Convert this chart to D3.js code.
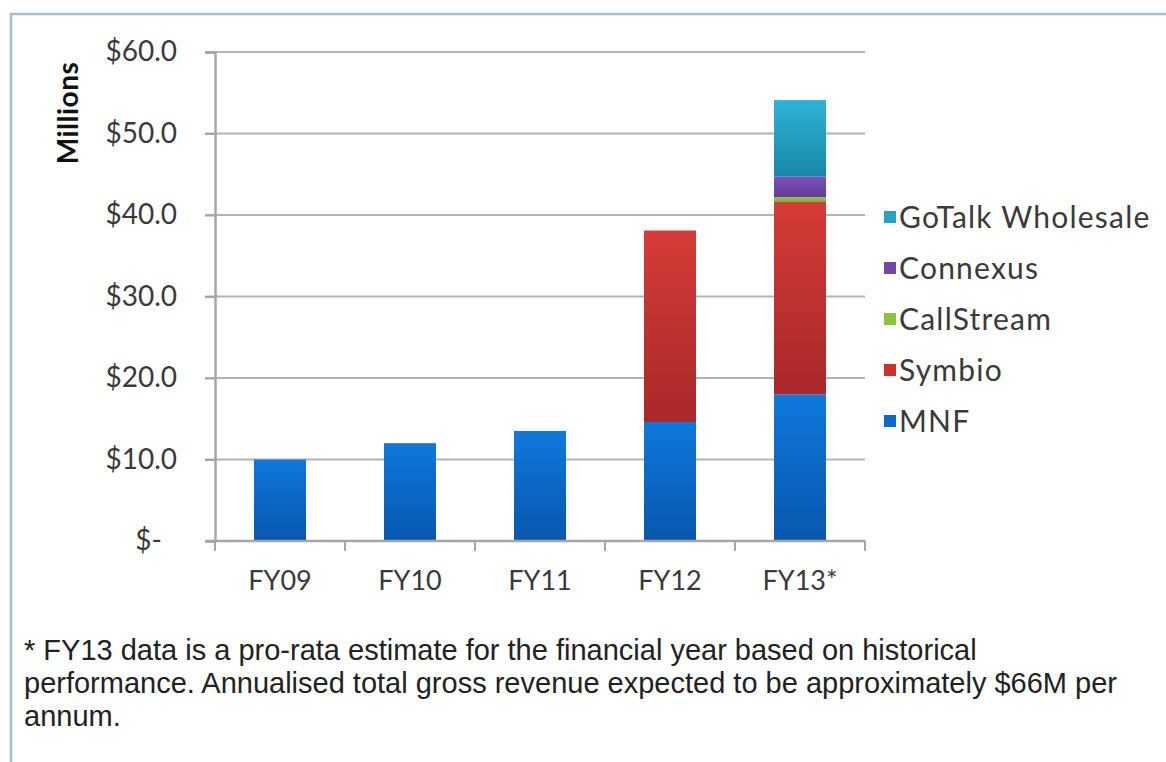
<!DOCTYPE html>
<html>
<head>
<meta charset="utf-8">
<script src="https://cdn.jsdelivr.net/npm/d3@7"></script>
<style>
  html, body { margin: 0; padding: 0; background: #ffffff; }
  svg { display: block; }
</style>
</head>
<body>
<svg id="chart" width="1166" height="762"></svg>
<script>
// ---- data ----
const categories = ["FY09", "FY10", "FY11", "FY12", "FY13*"];
const seriesNames = ["MNF", "Symbio", "CallStream", "Connexus", "GoTalk Wholesale"];
const mnf        = [10.0, 12.0, 13.5, 14.6, 18.0];
const symbio     = [0, 0, 0, 23.5, 23.6];
const callstream = [0, 0, 0, 0, 0.6];
const connexus   = [0, 0, 0, 0, 2.5];
const gotalk     = [0, 0, 0, 0, 9.4];
const yTicks = [0, 10, 20, 30, 40, 50, 60];
const legendOrder = ["GoTalk Wholesale", "Connexus", "CallStream", "Symbio", "MNF"];
const footnoteLines = [
  "* FY13 data is a pro-rata estimate for the financial year based on historical",
  "performance. Annualised total gross revenue expected to be approximately $66M per",
  "annum."
];

const seriesValues = { "MNF": mnf, "Symbio": symbio, "CallStream": callstream, "Connexus": connexus, "GoTalk Wholesale": gotalk };
const table = categories.map((c, i) => {
  const row = { category: c };
  seriesNames.forEach(s => row[s] = seriesValues[s][i]);
  return row;
});

// ---- styles ----
const colors = {
  "MNF":              ["#0f78dc", "#0957ad"],
  "Symbio":           ["#d53c37", "#a9282a"],
  "CallStream":       ["#9cc848", "#7aa83a"],
  "Connexus":         ["#7f50bb", "#623a98"],
  "GoTalk Wholesale": ["#2db2d6", "#1b87a8"]
};
const legendColors = {
  "MNF": "#0d68c8", "Symbio": "#cf302c", "CallStream": "#8dc43f",
  "Connexus": "#7446a6", "GoTalk Wholesale": "#25a3c6"
};
const textColor = "#3a3a3a";
const chartFont = "Lato, 'Open Sans', sans-serif";

const svg = d3.select("#chart");

// border frame
svg.append("rect")
  .attr("x", 11).attr("y", 14).attr("width", 1180).attr("height", 780)
  .attr("fill", "none").attr("stroke", "#a9bccf").attr("stroke-width", 2.5);

// gradients
const defs = svg.append("defs");
seriesNames.forEach((s, i) => {
  const g = defs.append("linearGradient").attr("id", "grad" + i)
    .attr("x1", 0).attr("y1", 0).attr("x2", 0).attr("y2", 1);
  g.append("stop").attr("offset", "0%").attr("stop-color", colors[s][0]);
  g.append("stop").attr("offset", "100%").attr("stop-color", colors[s][1]);
});

const plot = { left: 215, right: 865, top: 52, bottom: 541 };

const x = d3.scaleBand().domain(categories).range([plot.left, plot.right])
  .paddingInner(0.6).paddingOuter(0.3);
const y = d3.scaleLinear().domain([0, 60]).range([plot.bottom, plot.top]);

// gridlines
svg.append("g").selectAll("line").data(yTicks.filter(d => d > 0)).join("line")
  .attr("x1", plot.left - 10).attr("x2", plot.right)
  .attr("y1", d => y(d)).attr("y2", d => y(d))
  .attr("stroke", "#b3b3b3").attr("stroke-width", 2);

// stacked bars
const stack = d3.stack().keys(seriesNames);
const stacked = stack(table);
svg.append("g").selectAll("g").data(stacked).join("g")
  .attr("fill", (d, i) => "url(#grad" + i + ")")
  .selectAll("rect").data(d => d.filter(p => p[1] - p[0] > 0)).join("rect")
  .attr("x", d => x(d.data.category))
  .attr("width", x.bandwidth())
  .attr("y", d => y(d[1]))
  .attr("height", d => y(d[0]) - y(d[1]));

// y axis
const yAxis = d3.axisLeft(y).tickValues(yTicks).tickSize(10)
  .tickFormat(d => d === 0 ? "$-" : "$" + d3.format(".1f")(d));
const yg = svg.append("g").attr("transform", `translate(${plot.left},0)`).call(yAxis);
yg.select(".domain").attr("stroke", "#a6a6a6").attr("stroke-width", 2.5);
yg.selectAll(".tick line").attr("stroke", "#a6a6a6").attr("stroke-width", 2);
yg.selectAll(".tick text")
  .attr("font-family", chartFont).attr("font-size", 28).attr("fill", textColor)
  .attr("x", d => d === 0 ? -53 : -38);

// x axis
const xAxis = d3.axisBottom(x).tickSize(0).tickPadding(30);
const xg = svg.append("g").attr("transform", `translate(0,${plot.bottom})`).call(xAxis);
xg.select(".domain").remove();
xg.append("line").attr("x1", plot.left - 10).attr("x2", plot.right)
  .attr("stroke", "#a6a6a6").attr("stroke-width", 2.5);
const edges = [plot.left].concat(categories.map((c, i) => plot.left + (i + 1) * x.step()));
xg.selectAll(".edge").data(edges).join("line").attr("class", "edge")
  .attr("x1", d => d).attr("x2", d => d).attr("y1", 0).attr("y2", 10)
  .attr("stroke", "#a6a6a6").attr("stroke-width", 2);
xg.selectAll(".tick text")
  .attr("font-family", chartFont).attr("font-size", 27).attr("fill", textColor);

// y title
svg.append("text")
  .attr("transform", "translate(78,113) rotate(-90)")
  .attr("text-anchor", "middle")
  .attr("font-family", chartFont).attr("font-size", 28).attr("font-weight", "bold")
  .attr("letter-spacing", 0.5)
  .attr("fill", "#111").text("Millions");

// legend
const leg = svg.append("g");
const legY = d3.scalePoint().domain(legendOrder).range([217, 421]);
legendOrder.forEach(s => {
  leg.append("rect").attr("x", 884).attr("y", legY(s) - 6).attr("width", 12).attr("height", 12)
    .attr("fill", legendColors[s]);
  leg.append("text").attr("x", 899).attr("y", legY(s)).attr("dy", "0.35em")
    .attr("font-family", chartFont).attr("font-size", 30).attr("letter-spacing", 1.2)
    .attr("fill", textColor).text(s);
});

// footnote
svg.append("g").selectAll("text").data(footnoteLines).join("text")
  .attr("x", 24).attr("y", (d, i) => 660 + i * 33)
  .attr("font-family", "'Liberation Sans', Arial, sans-serif").attr("font-size", 29)
  .attr("fill", "#222").text(d => d);
</script>
</body>
</html>
